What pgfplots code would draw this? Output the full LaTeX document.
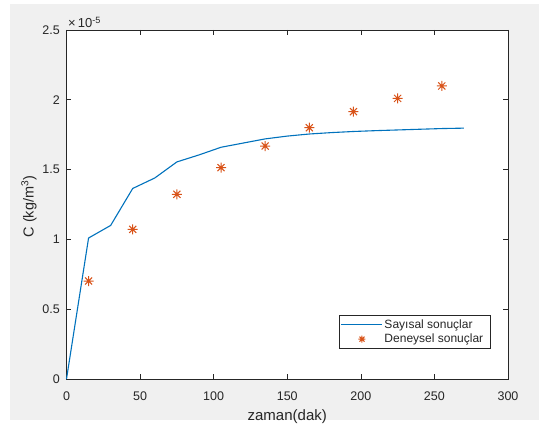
\documentclass[border=0pt]{standalone}
\usepackage{pgfplots}
\pgfplotsset{compat=1.18}
\usepackage{fontspec}
\setmainfont{Liberation Sans}
\definecolor{mblue}{rgb}{0,0.447,0.741}
\definecolor{morange}{rgb}{0.85,0.325,0.098}
\definecolor{mgray}{rgb}{0.15,0.15,0.15}
\definecolor{figbg}{HTML}{F0F0F0}
\pgfdeclareplotmark{mstar}{%
 \pgfpathmoveto{\pgfqpoint{-\pgfplotmarksize}{0pt}}\pgfpathlineto{\pgfqpoint{\pgfplotmarksize}{0pt}}%
 \pgfpathmoveto{\pgfqpoint{0pt}{-\pgfplotmarksize}}\pgfpathlineto{\pgfqpoint{0pt}{\pgfplotmarksize}}%
 \pgfpathmoveto{\pgfqpoint{-0.707\pgfplotmarksize}{-0.707\pgfplotmarksize}}\pgfpathlineto{\pgfqpoint{0.707\pgfplotmarksize}{0.707\pgfplotmarksize}}%
 \pgfpathmoveto{\pgfqpoint{-0.707\pgfplotmarksize}{0.707\pgfplotmarksize}}\pgfpathlineto{\pgfqpoint{0.707\pgfplotmarksize}{-0.707\pgfplotmarksize}}%
 \pgfusepathqstroke}
\pgfplotsset{
  linelegend/.style={legend image code/.code={\draw[##1] (0bp,0bp) -- (41bp,0bp);}},
  marklegend/.style={legend image code/.code={\draw[##1, mark size=3.5bp] plot coordinates {(20.5bp,0bp)};}},
}
\begin{document}
\begin{tikzpicture}
\useasboundingbox (-66.5bp,-50bp) rectangle (472.5bp,379bp);
\fill[figbg] (-56.5bp,-41bp) rectangle (472.5bp,375bp);
\begin{axis}[
  at={(0,0)}, anchor=south west,
  scale only axis, width=441.5bp, height=349bp,
  axis background/.style={fill=white},
  xmin=0, xmax=300, ymin=0, ymax=2.5e-5,
  xtick={0,50,100,150,200,250,300},
  ytick={0,0.5e-5,1e-5,1.5e-5,2e-5,2.5e-5},
  scaled y ticks=base 10:5,
  ytick scale label code/.code={},
  /pgf/number format/assume math mode=true,
  tick align=inside, major tick length=5bp,
  axis line style={mgray, line width=0.8bp},
  tick style={mgray, line width=0.6bp},
  every tick label/.append style={inner sep=0pt, font=\fontsize{12.5bp}{14bp}\selectfont, text=mgray},
  xticklabel style={anchor=north, yshift=-13bp},
  yticklabel style={anchor=east, xshift=-6.5bp},
  xlabel={zaman(dak)},
  ylabel={C (kg/m\textsuperscript{3})},
  xlabel style={at={(rel axis cs:0.5,0)}, anchor=base, yshift=-41bp, inner sep=0pt, font=\fontsize{15bp}{17bp}\selectfont, text=mgray},
  ylabel style={at={(rel axis cs:0,0.5)}, anchor=center, yshift=37.5bp, xshift=-2bp, inner sep=0pt, font=\fontsize{14.5bp}{17bp}\selectfont, text=mgray},
  legend style={at={(rel axis cs:1,0)}, anchor=south east, xshift=-17.7bp, yshift=30bp,
    draw=mgray, line width=0.6bp, inner xsep=2bp, inner ysep=2.5bp,
    font=\fontsize{12bp}{14bp}\selectfont, text=mgray,
    nodes={inner ysep=2bp, inner xsep=1.5bp}, row sep=0bp},
  legend cell align=left,
  clip=false,
]
\addplot[mblue, line width=1.1bp, linelegend]
  coordinates {
  (0,0) (15,1.01e-5) (30,1.10e-5) (45,1.365e-5) (60,1.44e-5) (75,1.555e-5)
  (90,1.605e-5) (105,1.66e-5) (120,1.69e-5) (135,1.72e-5) (150,1.74e-5)
  (165,1.755e-5) (180,1.765e-5) (195,1.773e-5) (210,1.779e-5) (225,1.784e-5)
  (240,1.789e-5) (255,1.794e-5) (270,1.797e-5)
  };
\addlegendentry{\makebox[102bp][l]{Sayısal sonuçlar}}
\addplot[only marks, mark=mstar, mark size=5bp, morange, line width=1bp, marklegend]
  coordinates {
  (15,0.702e-5) (45,1.072e-5) (75,1.323e-5) (105,1.514e-5) (135,1.669e-5)
  (165,1.80e-5) (195,1.915e-5) (225,2.01e-5) (255,2.099e-5)
  };
\addlegendentry{\makebox[102bp][l]{Deneysel sonuçlar}}
\node[anchor=base west, inner sep=0pt, text=mgray, font=\fontsize{13bp}{15bp}\selectfont, xshift=1.5bp, yshift=2.5bp] at (rel axis cs:0,1) {×\,10\textsuperscript{-5}};
\end{axis}
\end{tikzpicture}
\end{document}
